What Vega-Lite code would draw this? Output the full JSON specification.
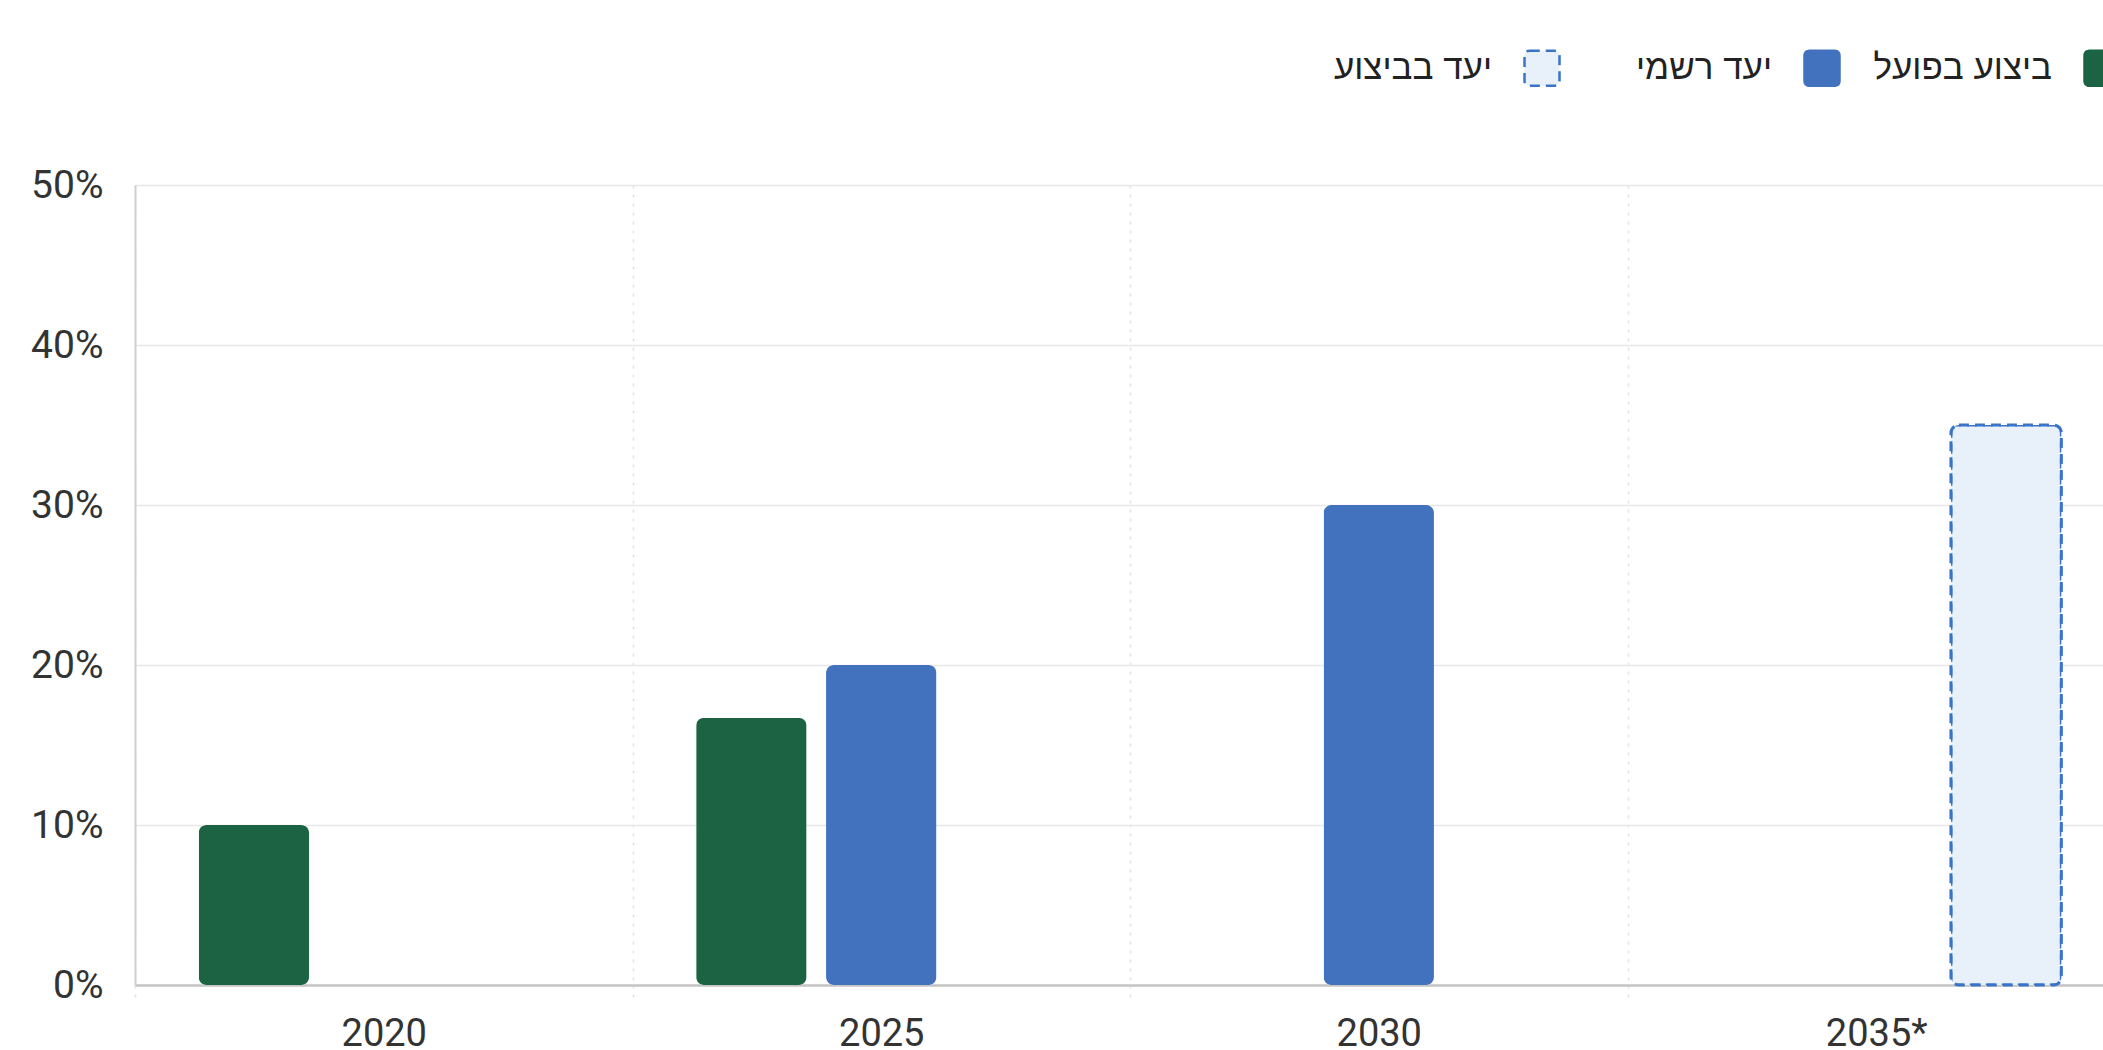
{
  "$schema": "https://vega.github.io/schema/vega-lite/v6.json",
  "autosize": "none",
  "padding": {"left": 135, "top": 185, "right": 0, "bottom": 65},
  "width": 1968,
  "height": 800,
  "background": "white",
  "config": {
    "view": {"stroke": null},
    "font": "Roboto",
    "axis": {"labelFont": "Roboto", "labelColor": "#333333"},
    "legend": {"labelFont": "Liberation Sans"}
  },
  "data": {
    "values": [
      {"year": "2020", "series": "ביצוע בפועל", "value": 10},
      {"year": "2025", "series": "ביצוע בפועל", "value": 16.7},
      {"year": "2025", "series": "יעד רשמי", "value": 20},
      {"year": "2030", "series": "יעד רשמי", "value": 30},
      {"year": "2035*", "series": "יעד בביצוע", "value": 35}
    ]
  },
  "mark": {"type": "bar", "cornerRadius": 8},
  "encoding": {
    "x": {
      "field": "year",
      "type": "nominal",
      "sort": ["2020", "2025", "2030", "2035*"],
      "scale": {"domain": ["2020", "2025", "2030", "2035*"], "range": [0, 1990], "paddingInner": 0, "paddingOuter": 0},
      "axis": {
        "title": null,
        "labelAngle": 0,
        "labelFontSize": 38,
        "labelPadding": 14,
        "tickBand": "extent",
        "ticks": true,
        "tickSize": 16,
        "tickColor": "#e2e2e2",
        "tickDash": [3, 6],
        "tickWidth": 1.5,
        "grid": true,
        "gridColor": "#e2e2e2",
        "gridDash": [3, 6],
        "gridWidth": 1.5,
        "domain": true,
        "domainColor": "#c4c4c4",
        "domainWidth": 2.5
      }
    },
    "xOffset": {
      "field": "series",
      "type": "nominal",
      "scale": {"domain": ["ביצוע בפועל", "יעד רשמי", "יעד בביצוע"], "paddingInner": 0.15, "paddingOuter": 0.49}
    },
    "y": {
      "field": "value",
      "type": "quantitative",
      "scale": {"domain": [0, 50], "nice": false},
      "axis": {
        "title": null,
        "values": [0, 10, 20, 30, 40, 50],
        "labelExpr": "datum.value + '%'",
        "labelFontSize": 39,
        "labelPadding": 32,
        "ticks": false,
        "grid": true,
        "gridColor": "#e8e8e8",
        "gridWidth": 1.5,
        "domain": true,
        "domainColor": "#d0d0d0",
        "domainWidth": 2
      }
    },
    "fill": {
      "field": "series",
      "type": "nominal",
      "scale": {"domain": ["יעד בביצוע", "יעד רשמי", "ביצוע בפועל"], "range": ["#e8f0fa", "#4272be", "#1b6342"]},
      "legend": {
        "title": null,
        "orient": "none",
        "direction": "horizontal",
        "legendX": 1388,
        "legendY": -136,
        "padding": 0,
        "gridAlign": "all",
        "symbolType": "M -0.7 -1 H 0.7 Q 1 -1 1 -0.7 V 0.7 Q 1 1 0.7 1 H -0.7 Q -1 1 -1 0.7 V -0.7 Q -1 -1 -0.7 -1 Z",
        "symbolSize": 1225,
        "symbolStrokeWidth": 2.5,
        "labelFontSize": 35,
        "labelLimit": 400,
        "labelColor": "#222222",
        "labelAlign": "right",
        "labelOffset": -69,
        "columnPadding": 28
      }
    },
    "stroke": {
      "field": "series",
      "type": "nominal",
      "scale": {"domain": ["יעד בביצוע", "יעד רשמי", "ביצוע בפועל"], "range": ["#3b73c9", "#4272be", "#1b6342"]},
      "legend": {
        "title": null,
        "orient": "none",
        "direction": "horizontal",
        "legendX": 1388,
        "legendY": -136,
        "padding": 0,
        "gridAlign": "all",
        "symbolType": "M -0.7 -1 H 0.7 Q 1 -1 1 -0.7 V 0.7 Q 1 1 0.7 1 H -0.7 Q -1 1 -1 0.7 V -0.7 Q -1 -1 -0.7 -1 Z",
        "symbolSize": 1225,
        "symbolStrokeWidth": 2.5,
        "labelFontSize": 35,
        "labelLimit": 400,
        "labelColor": "#222222",
        "labelAlign": "right",
        "labelOffset": -69,
        "columnPadding": 28
      }
    },
    "strokeDash": {
      "field": "series",
      "type": "nominal",
      "scale": {"domain": ["יעד בביצוע", "יעד רשמי", "ביצוע בפועל"], "range": [[10, 6], [1, 0], [1, 0]]},
      "legend": {
        "title": null,
        "orient": "none",
        "direction": "horizontal",
        "legendX": 1388,
        "legendY": -136,
        "padding": 0,
        "gridAlign": "all",
        "symbolType": "M -0.7 -1 H 0.7 Q 1 -1 1 -0.7 V 0.7 Q 1 1 0.7 1 H -0.7 Q -1 1 -1 0.7 V -0.7 Q -1 -1 -0.7 -1 Z",
        "symbolSize": 1225,
        "symbolStrokeWidth": 2.5,
        "labelFontSize": 35,
        "labelLimit": 400,
        "labelColor": "#222222",
        "labelAlign": "right",
        "labelOffset": -69,
        "columnPadding": 28
      }
    },
    "strokeWidth": {
      "condition": {"test": "datum.series === 'יעד בביצוע'", "value": 3},
      "value": 0
    }
  }
}
